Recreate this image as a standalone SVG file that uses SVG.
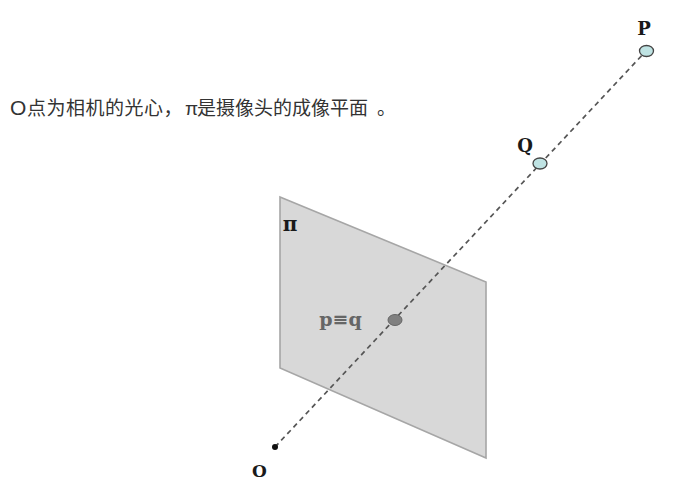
<svg xmlns="http://www.w3.org/2000/svg" width="676" height="485" viewBox="0 0 676 485">
<style>
.mono{font-family:"DejaVu Serif",serif;font-weight:bold;font-size:17px;fill:#1a1a1a;text-anchor:middle}
.cap{font-family:"Liberation Sans","Noto Sans CJK SC",sans-serif;font-size:19px;fill:#333}
.ray{fill:none;stroke:#555;stroke-width:1.7;stroke-dasharray:5 4}
.pt{fill:#bfe3e3;stroke:#444;stroke-width:1.3}
</style>
<rect width="676" height="485" fill="#fff"/>
<text id="caption" class="cap" y="115"><tspan x="10" font-size="21">O</tspan><tspan x="27" letter-spacing="0.5">点为相机的光心，</tspan><tspan x="185">π</tspan><tspan x="197">是摄像头的成像平面</tspan><tspan x="377">。</tspan></text>
<g id="plane-pi">
<polygon points="280,197 486,282 486,458 280,368" fill="#d8d8d8" stroke="#a6a6a6" stroke-width="1.6"/>
<text class="mono" x="290" y="231" style="font-size:20px">π</text>
</g>
<g id="connectors">
<line class="ray" x1="275" y1="447" x2="646" y2="51"/>
</g>
<g id="node-O">
<circle cx="275" cy="447" r="3" fill="#111"/>
<text class="mono" x="259.500" y="477">O</text>
</g>
<g id="node-pq">
<ellipse cx="395" cy="320" rx="7" ry="5.500" fill="#808080" stroke="#666" stroke-width="1"/>
<text class="mono" x="340.500" y="326" style="fill:#666;font-size:19px">p≡q</text>
</g>
<g id="node-Q">
<ellipse class="pt" cx="540" cy="163.500" rx="7" ry="5.500"/>
<text class="mono" x="525" y="152" style="font-size:18px">Q</text>
</g>
<g id="node-P">
<ellipse class="pt" cx="646.500" cy="51" rx="7" ry="5.500"/>
<text class="mono" x="644" y="35" style="font-size:18px">P</text>
</g>
</svg>
